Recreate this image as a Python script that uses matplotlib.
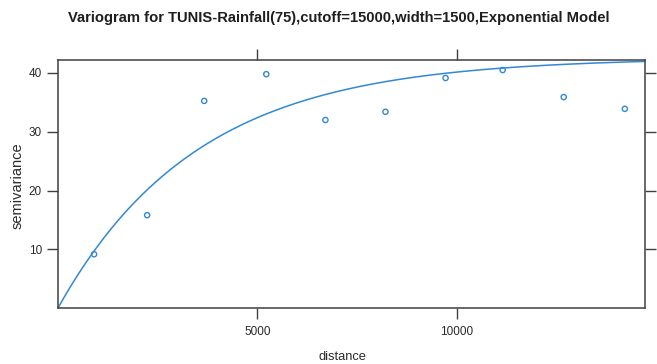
import numpy as np
import matplotlib
matplotlib.use("Agg")
import matplotlib.pyplot as plt

# empirical variogram points
dist = [905, 2236, 3668, 5226, 6709, 8216, 9724, 11156, 12688, 14221]
gamma = [9.15, 15.8, 35.25, 39.8, 32.0, 33.4, 39.15, 40.5, 35.9, 33.9]
# exponential model parameters
sill = 42.6
rng = 3500.0
x_ticks = [5000, 10000]
y_ticks = [10, 20, 30, 40]

plt.rcParams['font.family'] = ['Liberation Sans', 'DejaVu Sans']
col = '#3189d4'
edge = '#404040'
txt = '#2a2a2a'

fig = plt.figure(figsize=(6.57, 3.64), dpi=100)
ax = fig.add_axes([0.0883, 0.1538, 0.893, 0.6812])

h = np.linspace(0, 14720, 400)
ax.plot(h, sill * (1 - np.exp(-h / rng)), color=col, lw=1.1)
ax.scatter(dist, gamma, s=14, facecolors='none', edgecolors=col, linewidths=1.0, zorder=3)

ax.set_xlim(0, 14720)
ax.set_ylim(0, 42.2)
ax.set_xticks(x_ticks)
ax.set_yticks(y_ticks)
ax.tick_params(direction='out', length=8, width=1, color=edge, labelsize=8.5,
               top=True, right=True, labeltop=False, labelright=False,
               labelcolor=txt)
ax.tick_params(axis='x', pad=5)
ax.tick_params(axis='y', pad=3.5)
for s in ax.spines.values():
    s.set_color(edge)
    s.set_linewidth(1.1)

fig.text(0.5205, 1 - 357 / 364, 'distance', ha='center', va='center',
         fontsize=9.3, color=txt)
fig.text(18 / 657, 1 - 186 / 364, 'semivariance', ha='center', va='center',
         rotation=90, fontsize=10.5, color=txt)

fig.text(0.515, 0.95, 'Variogram for TUNIS-Rainfall(75),cutoff=15000,width=1500,Exponential Model',
         ha='center', va='center', fontsize=10.6, fontweight='bold', color='#1e1e1e')

fig.savefig('out.png', dpi=100)
